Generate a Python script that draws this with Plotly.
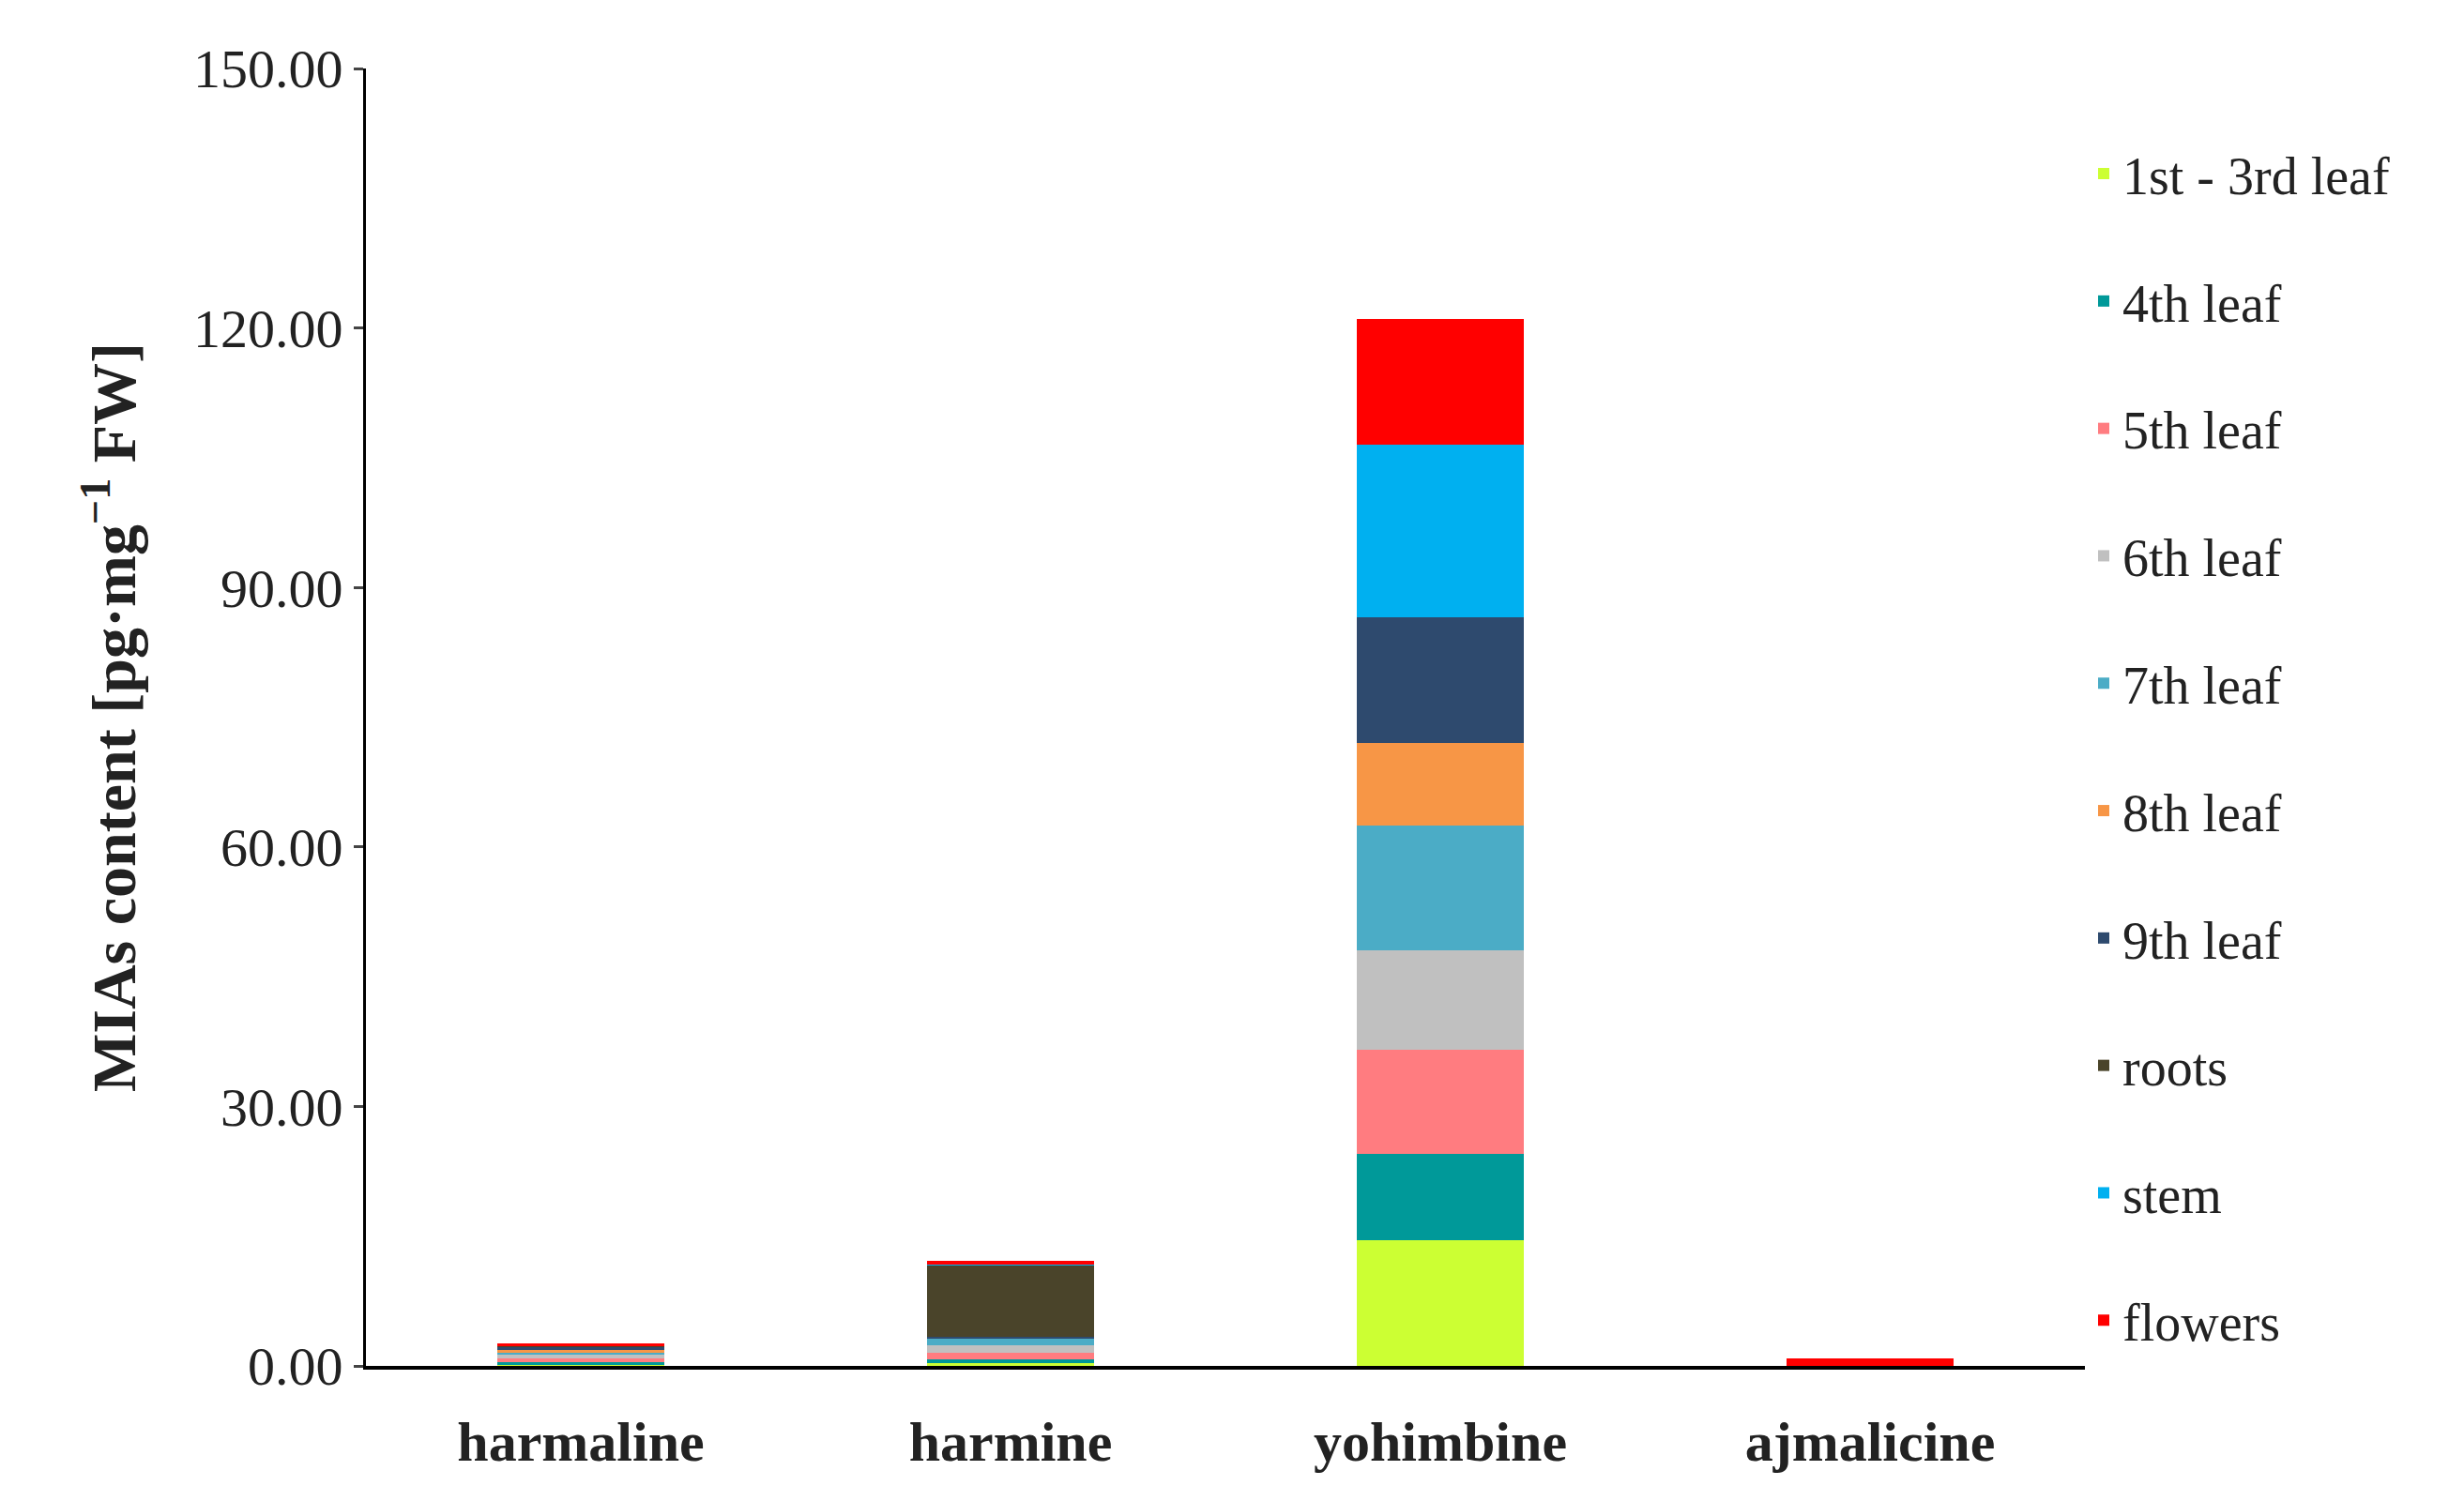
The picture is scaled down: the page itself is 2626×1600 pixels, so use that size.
import plotly.graph_objects as go

compounds = ["harmaline", "harmine", "yohimbine", "ajmalicine"]
organs = ["1st - 3rd leaf", "4th leaf", "5th leaf", "6th leaf", "7th leaf",
          "8th leaf", "9th leaf", "roots", "stem", "flowers"]
colors = ["#CCFF33", "#009999", "#FF7C80", "#C0C0C0", "#4BACC6",
          "#F79646", "#2E4A6E", "#4A442A", "#00B0F0", "#FF0000"]
values = {
    "1st - 3rd leaf": [0.1, 0.3, 14.5, 0.0],
    "4th leaf":       [0.3, 0.5, 10.0, 0.0],
    "5th leaf":       [0.5, 0.75, 12.0, 0.0],
    "6th leaf":       [0.4, 0.8, 11.5, 0.0],
    "7th leaf":       [0.3, 0.9, 14.5, 0.0],
    "8th leaf":       [0.2, 0.0, 9.5, 0.0],
    "9th leaf":       [0.4, 0.1, 14.5, 0.0],
    "roots":          [0.1, 8.3, 0.0, 0.0],
    "stem":           [0.0, 0.1, 20.0, 0.0],
    "flowers":        [0.3, 0.4, 14.5, 0.9],
}

fig = go.Figure()
for i, (o, c) in enumerate(zip(organs, colors)):
    fig.add_trace(go.Bar(x=compounds, y=values[o], name=o, marker_color=c,
                         marker_line_width=0, width=0.39, legendgroup=o))

font = "Liberation Serif"
fig.update_layout(
    barmode="stack", width=2626, height=1600, plot_bgcolor="white", paper_bgcolor="white",
    margin=dict(l=382, r=412, t=65, b=152),
    font=dict(family=font, size=56, color="#222"),
    legend=dict(traceorder="reversed+grouped", x=1.0, y=0.95, yanchor="top", xanchor="left",
                font=dict(size=56), tracegroupgap=60, itemwidth=30),
    bargap=0.6,
)
fig.update_yaxes(range=[0, 150], tickvals=[0, 30, 60, 90, 120, 150], tickformat=".2f",
                 showline=True, linecolor="black", linewidth=3, ticks="outside", ticklen=10,
                 tickwidth=3, showgrid=False, zeroline=False, tickfont=dict(size=58),
                 title=dict(text="<b>MIAs content [pg·mg<sup>−1</sup> FW]</b>", font=dict(size=66), standoff=40))
fig.update_xaxes(showline=True, linecolor="black", linewidth=4, showgrid=False,
                 tickfont=dict(size=60), ticklabelstandoff=25,
                 tickvals=compounds, ticktext=[f"<b>{c}</b>" for c in compounds],
                 range=[-0.5, 3.5])
fig.write_html("out.html")
